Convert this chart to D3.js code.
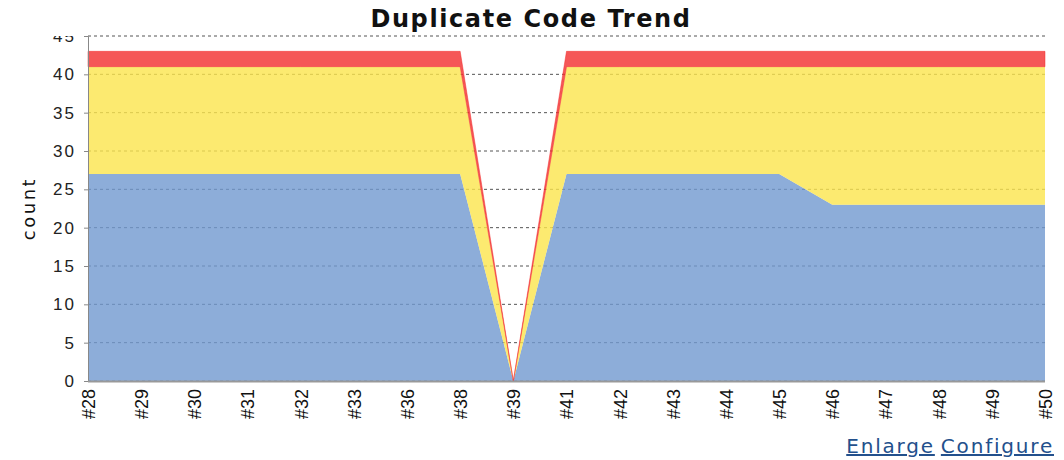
<!DOCTYPE html>
<html>
<head>
<meta charset="utf-8">
<script src="https://cdn.jsdelivr.net/npm/d3@7"></script>
<style>
  body { margin: 0; background: #fff; }
</style>
</head>
<body>
<div id="chart"></div>
<script>
const builds = ["#28", "#29", "#30", "#31", "#32", "#33", "#36", "#38", "#39",
  "#41", "#42", "#43", "#44", "#45", "#46", "#47", "#48", "#49", "#50"];
const lowValues = [27, 27, 27, 27, 27, 27, 27, 27, 0, 27, 27, 27, 27, 27, 23, 23, 23, 23, 23];
const normalValues = [14, 14, 14, 14, 14, 14, 14, 14, 0, 14, 14, 14, 14, 14, 18, 18, 18, 18, 18];
const highValues = [2, 2, 2, 2, 2, 2, 2, 2, 0, 2, 2, 2, 2, 2, 2, 2, 2, 2, 2];
const yTicks = [0, 5, 10, 15, 20, 25, 30, 35, 40, 45];

const width = 1064;
const height = 460;
const margin = { top: 36, right: 19, bottom: 79, left: 88 };

const svg = d3.select("#chart").append("svg")
  .attr("width", width)
  .attr("height", height)
  .style("font-family", "'DejaVu Sans', Verdana, sans-serif");

const x = d3.scalePoint()
  .domain(builds)
  .range([margin.left, width - margin.right]);

const y = d3.scaleLinear()
  .domain([0, 45])
  .range([height - margin.bottom, margin.top]);

// gridlines behind the areas
svg.append("g")
  .selectAll("line")
  .data(yTicks)
  .join("line")
  .attr("x1", margin.left)
  .attr("x2", width - margin.right)
  .attr("y1", d => y(d))
  .attr("y2", d => y(d))
  .style("stroke", "#555")
  .style("stroke-dasharray", "3,3")
  .style("stroke-width", 1);

const rows = builds.map((b, i) => ({
  build: b, low: lowValues[i], normal: normalValues[i], high: highValues[i]
}));

const stack = d3.stack().keys(["low", "normal", "high"]);
const series = stack(rows);

const colors = { low: "#7099cf", normal: "#fbe54c", high: "#f22d2d" };

const area = d3.area()
  .x(d => x(d.data.build))
  .y0(d => y(d[0]))
  .y1(d => y(d[1]));

svg.append("g")
  .selectAll("path")
  .data(series)
  .join("path")
  .attr("d", area)
  .style("fill", d => colors[d.key])
  .style("fill-opacity", 0.8)
  .style("stroke", d => d.key === "high" ? colors.high : "none")
  .style("stroke-opacity", 0.6)
  .style("stroke-width", 0.8);

// y axis
const yAxis = svg.append("g")
  .attr("transform", `translate(${margin.left},0)`)
  .call(d3.axisLeft(y).tickValues(yTicks).tickSize(4).tickPadding(8));
yAxis.select(".domain").style("stroke", "#888");
yAxis.selectAll(".tick line").style("stroke", "#888");
yAxis.selectAll("text")
  .style("font-size", "17px")
  .style("letter-spacing", "2px")
  .style("fill", "#222");

// x axis
const xAxis = svg.append("g")
  .attr("transform", `translate(0,${height - margin.bottom})`)
  .call(d3.axisBottom(x).tickSize(0).tickPadding(0));
xAxis.select(".domain")
  .attr("d", `M${margin.left},0.5H${width - margin.right}`)
  .style("stroke", "#999")
  .style("stroke-width", 2);
xAxis.selectAll("text")
  .attr("transform", "rotate(-90)")
  .attr("x", -8)
  .attr("y", 0)
  .attr("dy", "0.36em")
  .style("text-anchor", "end")
  .style("font-size", "18px")
  .style("fill", "#111");

// top of the image is cut off above the plot
svg.append("rect")
  .attr("x", 0)
  .attr("y", 0)
  .attr("width", margin.left - 5)
  .attr("height", 36)
  .style("fill", "#fff");

svg.append("text")
  .attr("x", 531)
  .attr("y", 27)
  .style("text-anchor", "middle")
  .style("font-size", "24px")
  .style("font-weight", "bold")
  .style("letter-spacing", "1.6px")
  .style("fill", "#111")
  .text("Duplicate Code Trend");

svg.append("text")
  .attr("transform", `translate(35,${(margin.top + height - margin.bottom) / 2}) rotate(-90)`)
  .style("text-anchor", "middle")
  .style("font-size", "18px")
  .style("letter-spacing", "2.5px")
  .style("fill", "#111")
  .text("count");

// links under the chart
const links = svg.append("text")
  .attr("x", width - 10)
  .attr("y", 453)
  .style("text-anchor", "end")
  .style("font-size", "20px")
  .style("letter-spacing", "1.8px")
  .style("fill", "#23508c")
  .style("text-decoration", "underline");
links.append("tspan").text("Enlarge");
links.append("tspan").attr("dx", 6).text("Configure");
</script>
</body>
</html>
